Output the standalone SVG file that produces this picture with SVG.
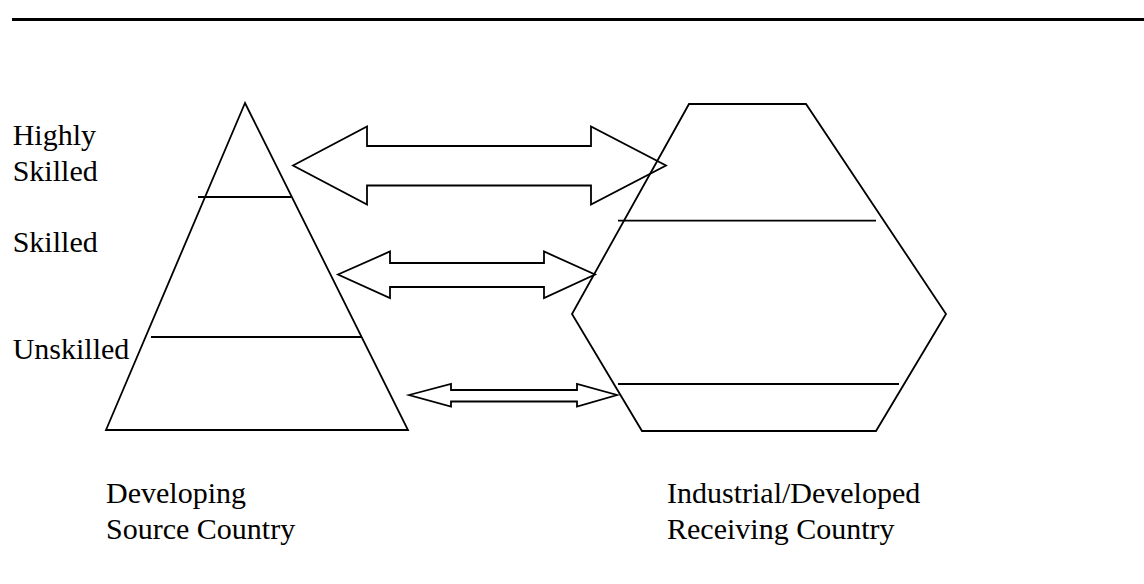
<svg xmlns="http://www.w3.org/2000/svg" width="1144" height="584" viewBox="0 0 1144 584">
<style>
.s{fill:none;stroke:#000;stroke-width:1.8;stroke-linejoin:miter}
.t{font-family:"Liberation Serif","Times New Roman",serif;font-size:30px;fill:#000}
</style>
<rect x="0" y="0" width="1144" height="584" fill="#fff"/>
<rect id="rule" x="12" y="18" width="1132" height="3" fill="#000"/>
<g id="source-pyramid">
<polygon class="s" points="245,103 106,430 408,430"/>
<line class="s" x1="198" y1="197" x2="291" y2="197"/>
<line class="s" x1="151" y1="337" x2="362" y2="337"/>
</g>
<g id="receiving-hexagon">
<polygon class="s" points="689,104 806,104 946,314 876,431 642,431 572,314"/>
<line class="s" x1="618" y1="220.7" x2="876" y2="220.7"/>
<line class="s" x1="618" y1="384" x2="899" y2="384"/>
</g>
<g id="connectors">
<polygon class="s" points="293,165.5 367,126.5 367,146 591,146 591,126.5 666,165.5 591,204.5 591,185.5 367,185.5 367,204.5"/>
<polygon class="s" points="338,274.5 390,251.5 390,263 544,263 544,251.5 595,274.5 544,298 544,287 390,287 390,298"/>
<polygon class="s" points="409,395 451,384 451,390 577,390 577,384 617,395 577,406.5 577,401.5 451,401.5 451,406.5"/>
</g>
<g id="labels-left">
<text class="t" x="12.7" y="145">Highly</text>
<text class="t" x="12.7" y="181">Skilled</text>
<text class="t" x="12.7" y="252">Skilled</text>
<text class="t" x="12.7" y="359">Unskilled</text>
</g>
<g id="label-source">
<text class="t" x="106" y="503">Developing</text>
<text class="t" x="106" y="539">Source Country</text>
</g>
<g id="label-receiving">
<text class="t" x="667" y="503">Industrial/Developed</text>
<text class="t" x="667" y="539">Receiving Country</text>
</g>
</svg>
